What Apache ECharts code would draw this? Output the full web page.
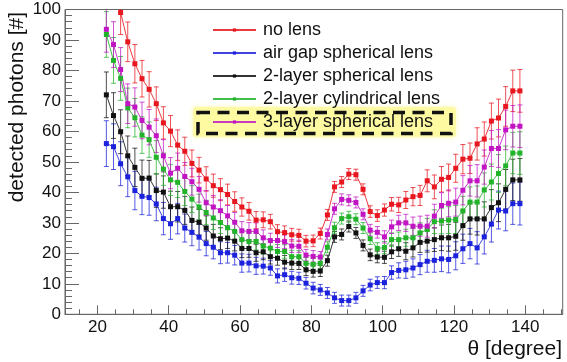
<!DOCTYPE html>
<html>
<head>
<meta charset="utf-8">
<script src="https://cdn.jsdelivr.net/npm/echarts@6/dist/echarts.min.js"></script>
<style>
  html, body { margin: 0; padding: 0; background: #fff; }
  #chart { width: 567px; height: 362px; }
</style>
</head>
<body>
<div id="chart"></div>
<script>
// Scattering angle of the detector (degrees)
const theta = [
  22.5, 24.5, 26.5, 28.5, 30.5, 32.5, 34.5, 36.5, 38.5, 40.5,
  42.5, 44.5, 46.5, 48.5, 50.5, 52.5, 54.5, 56.5, 58.5, 60.5,
  62.5, 64.5, 66.5, 68.5, 70.5, 72.5, 74.5, 76.5, 78.5, 80.5,
  82.5, 84.5, 86.5, 88.5, 90.5, 92.5, 94.5, 96.5, 98.5, 100.5,
  102.5, 104.5, 106.5, 108.5, 110.5, 112.5, 114.5, 116.5, 118.5, 120.5,
  122.5, 124.5, 126.5, 128.5, 130.5, 132.5, 134.5, 136.5, 138.5
];

// Mean number of detected photons per configuration
const noLens = [
  118, 110, 99.0, 89.4, 82.2, 77.3, 73.8, 69.1, 62.8, 60.1,
  55.5, 53.5, 49.5, 47.3, 44.4, 42.2, 40.9, 39.3, 37.0, 35.2,
  33.8, 30.9, 31.0, 30.4, 27.1, 26.8, 26.1, 25.9, 24.0, 24.1,
  26.5, 32.6, 41.8, 43.4, 46.0, 45.8, 41.0, 33.7, 32.4, 34.2,
  36.1, 35.9, 37.5, 38.6, 39.0, 43.8, 41.8, 44.3, 44.9, 47.9,
  50.9, 51.2, 55.9, 57.5, 63.4, 64.4, 68.2, 73.3, 73.3
];
const airGapSpherical = [
  56.0, 55.0, 49.4, 45.1, 40.6, 38.7, 38.3, 36.2, 31.4, 29.7,
  31.4, 28.3, 26.9, 25.3, 23.2, 22.0, 20.2, 20.2, 19.4, 16.8,
  16.8, 15.9, 15.8, 15.2, 12.6, 13.0, 12.0, 11.8, 10.2, 8.6,
  8.0, 7.0, 5.4, 4.5, 4.5, 5.4, 7.7, 9.6, 10.4, 10.4,
  13.7, 14.4, 14.6, 15.2, 16.3, 17.4, 17.7, 18.2, 18.0, 19.2,
  21.5, 23.2, 21.8, 25.4, 29.6, 34.2, 33.9, 36.3, 36.3
];
const twoLayerSpherical = [
  72.0, 65.2, 59.9, 52.0, 48.2, 44.6, 44.7, 40.6, 40.1, 35.3,
  35.3, 34.1, 30.8, 30.2, 28.3, 25.7, 24.8, 25.0, 24.0, 21.6,
  21.6, 20.2, 20.5, 18.9, 18.4, 17.1, 16.8, 16.7, 14.6, 14.1,
  14.2, 17.6, 25.4, 26.2, 28.8, 26.7, 22.6, 19.5, 18.8, 18.7,
  20.5, 21.5, 20.7, 21.8, 23.6, 24.0, 24.5, 25.1, 25.1, 25.6,
  29.1, 31.3, 31.3, 31.3, 35.0, 36.6, 41.0, 44.1, 44.1
];
const twoLayerCylindrical = [
  91.8, 83.3, 77.4, 67.7, 64.5, 58.8, 57.3, 51.5, 47.6, 44.1,
  43.3, 40.3, 37.8, 35.2, 33.4, 31.6, 30.1, 28.4, 27.2, 24.5,
  23.9, 23.9, 22.4, 21.7, 20.6, 20.6, 18.9, 18.9, 16.7, 16.4,
  16.7, 22.0, 28.4, 31.4, 32.0, 31.2, 28.3, 24.8, 21.6, 21.9,
  24.5, 24.5, 25.1, 25.1, 26.7, 27.8, 30.4, 30.6, 30.9, 31.1,
  33.9, 36.8, 36.8, 40.8, 43.4, 46.2, 48.7, 52.9, 52.9
];
const threeLayerSpherical = [
  93.5, 88.5, 80.3, 69.1, 68.0, 63.6, 61.4, 58.6, 52.0, 46.3,
  47.9, 45.2, 43.5, 41.0, 36.6, 35.2, 34.0, 32.3, 30.2, 27.4,
  27.2, 27.2, 25.1, 24.2, 24.2, 23.8, 22.4, 22.3, 19.4, 19.0,
  18.8, 26.2, 34.6, 37.7, 37.4, 36.7, 32.8, 27.6, 26.9, 25.4,
  28.7, 30.0, 30.0, 28.9, 28.9, 28.9, 32.2, 35.7, 36.4, 36.8,
  40.7, 43.8, 43.8, 48.3, 54.4, 54.4, 60.5, 61.7, 61.7
];

// Statistical uncertainty per angle (photons)
const uncertainty = [
  7.5, 7.5, 7.2, 6.5, 6.3, 6.0, 5.8, 5.5, 5.3, 5.1,
  5.0, 4.6, 4.4, 4.2, 4.0, 3.8, 3.6, 3.4, 3.2, 3.0,
  2.9, 2.8, 2.6, 2.4, 2.3, 2.2, 2.1, 2.0, 1.9, 1.9,
  1.8, 1.8, 1.8, 1.8, 1.8, 1.8, 1.8, 1.9, 1.9, 2.0,
  2.2, 2.5, 2.8, 3.0, 3.3, 3.6, 3.9, 4.2, 4.4, 4.6,
  4.8, 5.0, 5.3, 5.6, 5.9, 6.2, 6.5, 6.8, 7.0
];

// Axis tick values
const xTickLabels = [20, 40, 60, 80, 100, 120, 140];
const xMinorTicks = [15, 25, 30, 35, 45, 50, 55, 65, 70, 75, 85, 90, 95, 105, 110, 115, 125, 130, 135, 145, 150];
const yTickLabels = [0, 10, 20, 30, 40, 50, 60, 70, 80, 90, 100];

const seriesDefs = [
  { name: 'no lens', values: noLens, color: '#e8161e' },
  { name: 'air gap spherical lens', values: airGapSpherical, color: '#1c22dc' },
  { name: '2-layer spherical lens', values: twoLayerSpherical, color: '#111111' },
  { name: '2-layer cylindrical lens', values: twoLayerCylindrical, color: '#22b32a' },
  { name: '3-layer spherical lens', values: threeLayerSpherical, color: '#c115c4' }
];

const FONT = 'Liberation Sans, Arial, sans-serif';
const AXIS_COLOR = '#666';

function errorBarItem(color) {
  return function (params, api) {
    const x = api.value(0), v = api.value(1), e = api.value(2);
    const hi = api.coord([x, v + e]);
    const lo = api.coord([x, v - e]);
    const cap = 2.5;
    const style = { stroke: color, lineWidth: 1, opacity: 0.75 };
    return {
      type: 'group',
      children: [
        { type: 'line', shape: { x1: hi[0], y1: hi[1], x2: lo[0], y2: lo[1] }, style },
        { type: 'line', shape: { x1: hi[0] - cap, y1: hi[1], x2: hi[0] + cap, y2: hi[1] }, style },
        { type: 'line', shape: { x1: lo[0] - cap, y1: lo[1], x2: lo[0] + cap, y2: lo[1] }, style }
      ]
    };
  };
}

const series = [];
seriesDefs.forEach(function (s) {
  series.push({
    type: 'custom',
    name: s.name + ' (err)',
    clip: true,
    renderItem: errorBarItem(s.color),
    encode: { x: 0, y: 1 },
    data: theta.map(function (t, i) { return [t, s.values[i], uncertainty[i]]; }),
    z: 2
  });
  series.push({
    type: 'line',
    name: s.name,
    clip: true,
    data: theta.map(function (t, i) { return [t, s.values[i]]; }),
    symbol: 'rect',
    symbolSize: 5,
    showSymbol: true,
    lineStyle: { color: s.color, width: 1, opacity: 0.85 },
    itemStyle: { color: s.color },
    z: 3
  });
});

const chart = echarts.init(document.getElementById('chart'), null, { renderer: 'canvas' });
chart.setOption({
  animation: false,
  backgroundColor: '#ffffff',
  textStyle: { fontFamily: FONT },
  grid: {
    left: 65, right: 4.3, top: 9.5, bottom: 47.7,
    show: true, borderColor: AXIS_COLOR, borderWidth: 1, backgroundColor: 'transparent'
  },
  xAxis: [
    {
      type: 'value', min: 10.9, max: 150.5,
      axisLine: { show: true, onZero: false, lineStyle: { color: AXIS_COLOR, width: 1 } },
      axisTick: { show: true, inside: true, length: 9, customValues: xTickLabels, lineStyle: { color: AXIS_COLOR } },
      axisLabel: { customValues: xTickLabels, fontSize: 17, color: '#111', margin: 5, fontFamily: FONT },
      splitLine: { show: false }
    },
    {
      type: 'value', min: 10.9, max: 150.5, position: 'bottom',
      axisLine: { show: false },
      axisTick: { show: true, inside: true, length: 5, customValues: xMinorTicks, lineStyle: { color: AXIS_COLOR } },
      axisLabel: { show: false },
      splitLine: { show: false }
    }
  ],
  yAxis: {
    type: 'value', min: 0, max: 100, interval: 10,
    axisLine: { show: true, lineStyle: { color: AXIS_COLOR, width: 1 } },
    axisTick: { show: true, inside: true, length: 14, lineStyle: { color: AXIS_COLOR } },
    minorTick: { show: true, splitNumber: 5, length: 7, lineStyle: { color: AXIS_COLOR } },
    axisLabel: { customValues: yTickLabels, fontSize: 17, color: '#111', margin: 4, fontFamily: FONT },
    splitLine: { show: false }
  },
  legend: {
    data: seriesDefs.map(function (s) { return s.name; }),
    orient: 'vertical',
    left: 212, top: 21, padding: 0,
    itemWidth: 43, itemHeight: 4, itemGap: 5.0,
    textStyle: { fontSize: 18, color: '#111', fontFamily: FONT, padding: [0, 0, 0, 2] },
    z: 5
  },
  graphic: [
    {
      type: 'rect', z: 1,
      shape: { x: 193, y: 107, width: 263, height: 30, r: 3 },
      style: { fill: 'rgba(253, 249, 160, 0.9)', shadowColor: 'rgba(253, 249, 160, 0.9)', shadowBlur: 5 }
    },
    {
      type: 'rect', z: 20,
      shape: { x: 198, y: 112.5, width: 253, height: 21 },
      style: { fill: 'none', stroke: '#111', lineWidth: 3.5, lineDash: [12, 7.5] }
    },
    {
      type: 'text', z: 20,
      x: 17, y: 12, rotation: Math.PI / 2,
      style: { text: 'detected photons [#]', fontSize: 21, fontFamily: FONT, fill: '#111', align: 'right', verticalAlign: 'middle' }
    },
    {
      type: 'text', z: 20,
      x: 562, y: 349,
      style: { text: 'θ [degree]', fontSize: 21, fontFamily: FONT, fill: '#111', align: 'right', verticalAlign: 'middle' }
    }
  ],
  series: series
});
</script>
</body>
</html>
